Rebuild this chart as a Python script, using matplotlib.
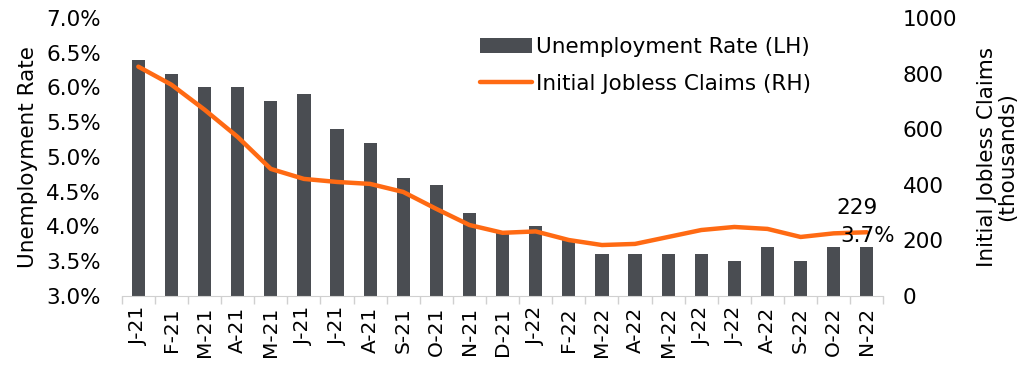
import numpy as np
import matplotlib
matplotlib.use("Agg")
import matplotlib.pyplot as plt
from matplotlib.ticker import FuncFormatter, FixedLocator

months = ['J-21', 'F-21', 'M-21', 'A-21', 'M-21', 'J-21', 'J-21', 'A-21', 'S-21', 'O-21', 'N-21', 'D-21',
          'J-22', 'F-22', 'M-22', 'A-22', 'M-22', 'J-22', 'J-22', 'A-22', 'S-22', 'O-22', 'N-22']
unemployment = [6.4, 6.2, 6.0, 6.0, 5.8, 5.9, 5.4, 5.2, 4.7, 4.6, 4.2, 3.9,
                4.0, 3.8, 3.6, 3.6, 3.6, 3.6, 3.5, 3.7, 3.5, 3.7, 3.7]
claims = [825, 760, 670, 572, 457, 421, 410, 403, 374, 313, 255, 227,
          232, 201, 183, 187, 212, 237, 248, 241, 212, 225, 229]

bar_color = '#4a4d52'
line_color = '#ff6a13'
plt.rcParams['font.family'] = 'DejaVu Sans'
fs = 15.5

fig = plt.figure(figsize=(10.32, 3.68), dpi=100)
ax = fig.add_axes([0.118, 0.196, 0.738, 0.755])
ax2 = ax.twinx()

x = np.arange(len(months))
ax.bar(x, unemployment, width=0.4, color=bar_color, label='Unemployment Rate (LH)', zorder=2)
ax2.plot(x, claims, color=line_color, lw=3.2, solid_capstyle='round', label='Initial Jobless Claims (RH)', zorder=3)

ax.set_ylim(3.0, 7.0)
ax.set_yticks(np.arange(3.0, 7.01, 0.5))
ax.yaxis.set_major_formatter(FuncFormatter(lambda v, p: f'{v:.1f}%'))
ax2.set_ylim(0, 1000)
ax2.set_yticks(range(0, 1001, 200))
ax.set_xlim(-0.5, len(months) - 0.5)
ax.set_xticks(x)
ax.set_xticklabels(months, rotation=90, fontsize=14.5)
ax.xaxis.set_minor_locator(FixedLocator(np.arange(-0.5, len(months), 1.0)))
ax.tick_params(axis='x', which='major', length=0, pad=8)
ax.tick_params(axis='x', which='minor', length=6, color='#d0d0d0', width=1)
ax.tick_params(axis='y', length=0, labelsize=fs, pad=15)
ax2.tick_params(axis='y', length=0, labelsize=fs, pad=14)

for s in ['top', 'left', 'right']:
    ax.spines[s].set_visible(False)
    ax2.spines[s].set_visible(False)
ax.spines['bottom'].set_color('#d0d0d0')
ax2.spines['bottom'].set_visible(False)

ax.set_ylabel('Unemployment Rate', fontsize=fs, labelpad=6)
ax2.set_ylabel('Initial Jobless Claims\n(thousands)', fontsize=fs, labelpad=14, linespacing=1.05)

ax2.annotate(f'{claims[-1]}', (x[-1], claims[-1]), xytext=(8, 10), textcoords='offset points',
             ha='right', va='bottom', fontsize=fs)
ax2.annotate(f'{unemployment[-1]:.1f}%', (x[-1], claims[-1]), xytext=(20, -10), textcoords='offset points',
             ha='right', va='bottom', fontsize=fs)

h1, l1 = ax.get_legend_handles_labels()
h2, l2 = ax2.get_legend_handles_labels()
ax2.legend(h1 + h2, l1 + l2, loc='upper left', bbox_to_anchor=(0.445, 1.0), frameon=False,
           fontsize=fs, handlelength=2.4, handletextpad=0.2, labelspacing=0.75)

fig.savefig('out.png', dpi=100)
